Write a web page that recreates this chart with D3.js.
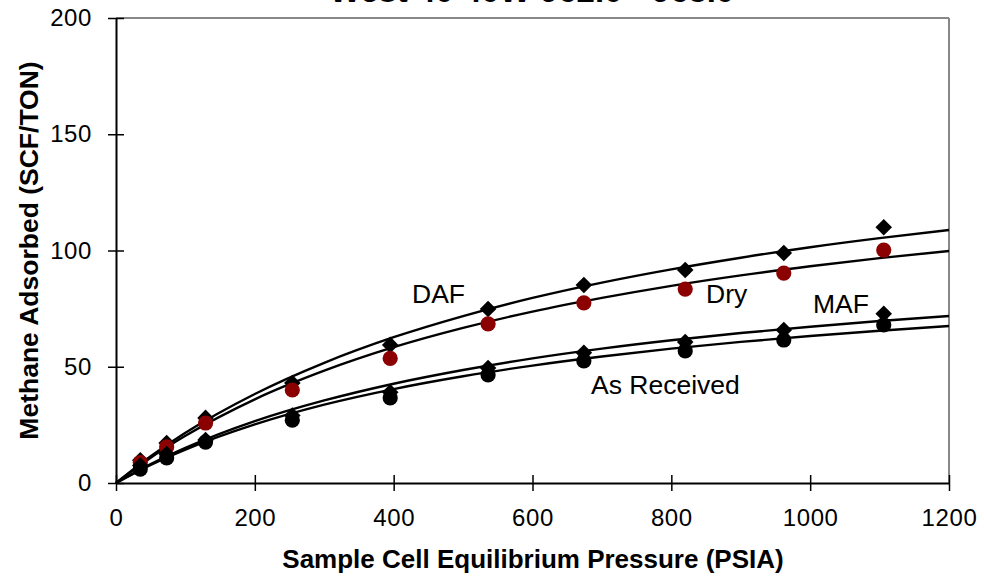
<!DOCTYPE html>
<html>
<head>
<meta charset="utf-8">
<script src="https://cdn.jsdelivr.net/npm/d3@7"></script>
<style>
  html, body { margin: 0; padding: 0; background: #fff; }
  svg { display: block; font-family: Arial, "Liberation Sans", sans-serif; }
</style>
</head>
<body>
<svg id="chart" width="984" height="577"></svg>
<script>
// Measured pressures (PSIA) of the adsorption steps
const pressure = [35, 73, 129, 254, 395, 536, 674, 820, 962, 1106];

// Methane adsorbed (SCF/TON) on each basis
const dafValues = [9.8, 17.2, 28.0, 43.0, 59.4, 74.8, 85.2, 91.6, 98.9, 110.0];
const dryValues = [8.8, 15.5, 25.8, 40.0, 53.6, 68.4, 77.5, 83.4, 90.3, 100.2];
const mafValues = [7.5, 12.5, 18.5, 29.0, 39.0, 49.5, 56.0, 60.6, 65.8, 72.8];
const arValues  = [6.0, 10.8, 17.6, 27.0, 36.6, 46.5, 52.5, 56.8, 61.5, 68.0];

// Fitted isotherm curves, sampled along the pressure axis
const curvePressure = [0, 50, 100, 200, 300, 400, 500, 600, 700, 800, 900, 1000, 1100, 1200];
const dafCurve = [0, 11.5, 21.6, 38.3, 51.7, 62.7, 71.8, 79.6, 86.2, 91.9, 96.9, 101.4, 105.3, 108.8];
const dryCurve = [0, 10.9, 20.3, 36.0, 48.3, 58.4, 66.7, 73.7, 79.6, 84.8, 89.3, 93.2, 96.7, 99.8];
const mafCurve = [0, 8.1, 15.1, 26.6, 35.5, 42.7, 48.6, 53.6, 57.8, 61.4, 64.5, 67.2, 69.7, 71.8];
const arCurve  = [0, 7.8, 14.4, 25.2, 33.7, 40.4, 45.9, 50.5, 54.4, 57.8, 60.7, 63.2, 65.5, 67.5];

const xTicks = [0, 200, 400, 600, 800, 1000, 1200];
const yTicks = [0, 50, 100, 150, 200];

const titleText = "West 40 40W 962.0 - 963.0";
const xTitle = "Sample Cell Equilibrium Pressure (PSIA)";
const yTitle = "Methane Adsorbed (SCF/TON)";

const svg = d3.select("#chart");
const plot = { left: 116, right: 949, top: 18, bottom: 483 };

const x = d3.scaleLinear().domain([0, 1200]).range([plot.left, plot.right]);
const y = d3.scaleLinear().domain([0, 200]).range([plot.bottom, plot.top]);

// Title (sits above the plot frame, mostly beyond the top edge)
svg.append("text")
  .attr("x", 532).attr("y", 2)
  .attr("text-anchor", "middle")
  .attr("font-size", 33).attr("font-weight", "bold")
  .text(titleText);

// Grey frame on the top and right sides
svg.append("line")
  .attr("x1", plot.left).attr("x2", plot.right)
  .attr("y1", plot.top).attr("y2", plot.top)
  .attr("stroke", "#888").attr("stroke-width", 2);
svg.append("line")
  .attr("x1", plot.right).attr("x2", plot.right)
  .attr("y1", plot.top).attr("y2", plot.bottom)
  .attr("stroke", "#888").attr("stroke-width", 2);

// Axes with ticks crossing the axis line
const xAxis = d3.axisBottom(x).tickValues(xTicks).tickFormat(d3.format("d"))
  .tickSizeInner(8).tickSizeOuter(0).tickPadding(18);
const yAxis = d3.axisLeft(y).tickValues(yTicks).tickFormat(d3.format("d"))
  .tickSizeInner(8).tickSizeOuter(0).tickPadding(16);

const gx = svg.append("g").attr("transform", `translate(0,${plot.bottom})`).call(xAxis);
const gy = svg.append("g").attr("transform", `translate(${plot.left},0)`).call(yAxis);

[gx, gy].forEach(g => {
  g.select(".domain").attr("stroke", "#000").attr("stroke-width", 2);
  g.selectAll(".tick line").attr("stroke", "#000").attr("stroke-width", 1.5);
  g.selectAll(".tick text").attr("font-size", 24).attr("fill", "#000")
    .attr("letter-spacing", 0.6)
    .attr("font-family", "Arial, 'Liberation Sans', sans-serif");
});
gx.selectAll(".tick line").attr("y1", -8).attr("y2", 8);
gy.selectAll(".tick line").attr("x1", -8).attr("x2", 8);
gx.selectAll(".tick text").attr("dy", "0.71em");

// Axis titles
svg.append("text")
  .attr("x", 533).attr("y", 568)
  .attr("text-anchor", "middle")
  .attr("font-size", 26).attr("font-weight", "bold")
  .text(xTitle);
svg.append("text")
  .attr("transform", `translate(38,${(plot.top + plot.bottom) / 2}) rotate(-90)`)
  .attr("text-anchor", "middle")
  .attr("font-size", 26.5).attr("font-weight", "bold")
  .text(yTitle);

// Isotherm curves
const line = d3.line()
  .x((d, i) => x(curvePressure[i]))
  .y(d => y(d))
  .curve(d3.curveMonotoneX);

[dafCurve, dryCurve, mafCurve, arCurve].forEach(c => {
  svg.append("path")
    .attr("d", line(c))
    .attr("fill", "none")
    .attr("stroke", "#000")
    .attr("stroke-width", 2.4);
});

// Markers
const diamond = d3.symbol().type(d3.symbolDiamond2).size(175);
function drawDiamonds(vals) {
  svg.append("g").selectAll("path")
    .data(vals).join("path")
    .attr("d", diamond)
    .attr("transform", (d, i) => `translate(${x(pressure[i])},${y(d)})`)
    .attr("fill", "#000");
}
function drawCircles(vals, color) {
  svg.append("g").selectAll("circle")
    .data(vals).join("circle")
    .attr("cx", (d, i) => x(pressure[i]))
    .attr("cy", d => y(d))
    .attr("r", 7.6)
    .attr("fill", color);
}
drawDiamonds(dafValues);
drawCircles(dryValues, "#8b0000");
drawDiamonds(mafValues);
drawCircles(arValues, "#000");

// Series labels
const labels = [
  { text: "DAF", px: 412, py: 303 },
  { text: "Dry", px: 706, py: 303 },
  { text: "MAF", px: 813, py: 313 },
  { text: "As Received", px: 591, py: 394 }
];
svg.append("g").selectAll("text")
  .data(labels).join("text")
  .attr("x", d => d.px).attr("y", d => d.py)
  .attr("font-size", 26.5)
  .text(d => d.text);
</script>
</body>
</html>
